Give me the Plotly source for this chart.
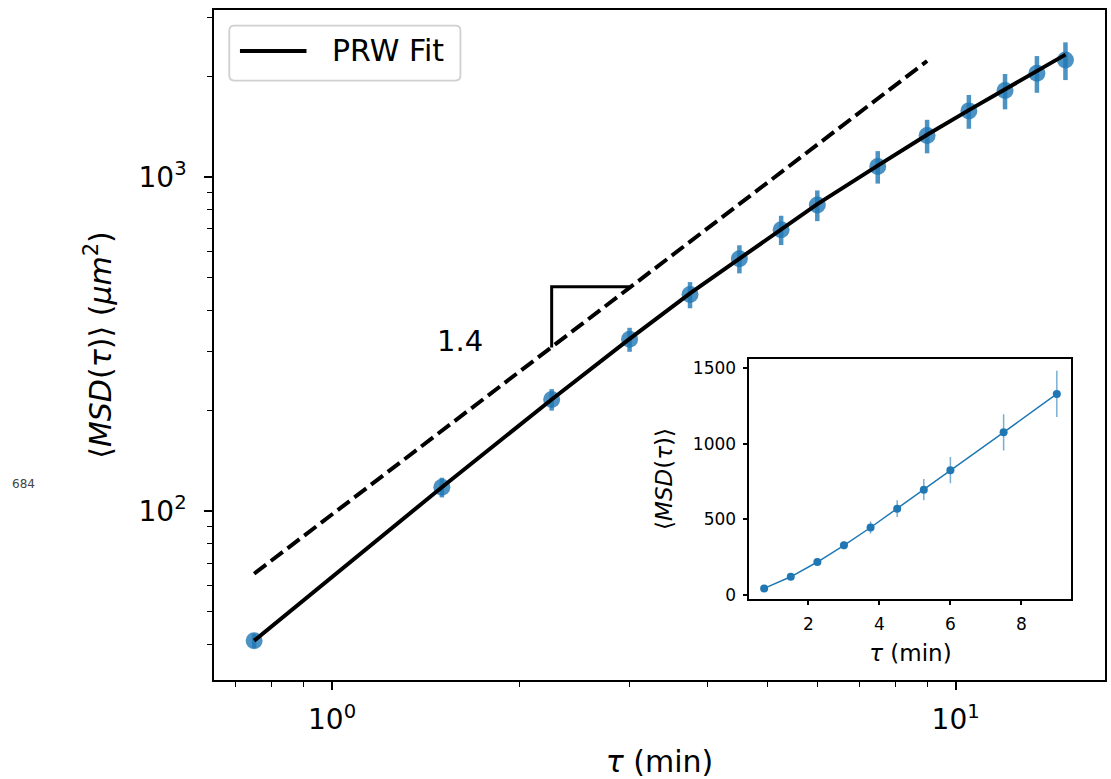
import numpy as np
import plotly.graph_objects as go

# ---------------- data ----------------
tau = [0.75, 1.5, 2.25, 3.0, 3.75, 4.5, 5.25, 6.0, 7.5, 9.0, 10.5, 12.0, 13.5, 15.0]
msd = [41, 118, 216, 327, 445, 570, 696, 825, 1076, 1331, 1578, 1815, 2045, 2241]
msd_err = [2, 8, 16, 27, 40, 55, 70, 87, 120, 153, 183, 220, 257, 290]
fit_msd = [41, 118, 216, 328, 449, 570, 699, 830, 1082, 1338, 1586, 1827, 2071, 2325]
guide_tau = [0.75, 9.0]
guide_msd = [65, 2225]
tri_tau = [2.25, 2.25, 3.0]
tri_msd = [309, 470, 470]
slope_text = "1.4"
slope_pos = (1.604, 324)
inset_count = 10

x_major = [1, 10]
x_major_text = ["10<sup>0</sup>", "10<sup>1</sup>"]
x_minor = [0.7, 0.8, 0.9, 2, 3, 4, 5, 6, 7, 8, 9]
y_major = [100, 1000]
y_major_text = ["10<sup>2</sup>", "10<sup>3</sup>"]
y_minor = [40, 50, 60, 70, 80, 90, 200, 300, 400, 500, 600, 700, 800, 900, 2000, 3000]
inset_xticks = [2, 4, 6, 8]
inset_yticks = [0, 500, 1000, 1500]

# ---------------- layout geometry ----------------
W, H = 1111, 779
L, R, T, B = 214, 4, 10, 98
PW, PH = W - L - R, H - T - B

def px_x(p):
    return (p - L) / PW

def px_y(p):
    return (H - B - p) / PH

BLUE = "#1f77b4"
BLUE_A = "rgba(31,119,180,0.8)"
FONT = "DejaVu Sans"

fig = go.Figure()

# main data with error bars
fig.add_trace(go.Scatter(
    x=tau, y=msd, mode="markers", showlegend=False,
    marker=dict(size=17, color=BLUE_A, line=dict(width=0)),
    error_y=dict(type="data", array=msd_err, visible=True, thickness=4.5,
                 width=0, color=BLUE_A),
    xaxis="x", yaxis="y"))

# guide dashed line
fig.add_trace(go.Scatter(
    x=guide_tau, y=guide_msd, mode="lines", showlegend=False,
    line=dict(color="black", width=4, dash="15px,6px"),
    xaxis="x", yaxis="y"))

# slope triangle
fig.add_trace(go.Scatter(
    x=tri_tau, y=tri_msd, mode="lines", showlegend=False,
    line=dict(color="black", width=3),
    xaxis="x", yaxis="y"))

# PRW fit
fig.add_trace(go.Scatter(
    x=tau, y=fit_msd, mode="lines", name="PRW Fit", showlegend=False,
    line=dict(color="black", width=4),
    xaxis="x", yaxis="y"))

# inset
fig.add_trace(go.Scatter(
    x=tau[:inset_count], y=msd[:inset_count], mode="lines+markers", showlegend=False,
    line=dict(color=BLUE, width=1.5),
    marker=dict(size=8, color=BLUE),
    error_y=dict(type="data", array=msd_err[:inset_count], visible=True,
                 thickness=1.5, width=0, color="rgba(31,119,180,0.6)"),
    xaxis="x2", yaxis="y2"))

axis_common = dict(showline=True, linecolor="black", mirror=True, showgrid=False,
                   zeroline=False, ticks="outside", tickcolor="black")

fig.update_layout(
    width=W, height=H,
    margin=dict(l=L, r=R, t=T, b=B),
    paper_bgcolor="white", plot_bgcolor="white",
    font=dict(family=FONT, color="black"),
    xaxis=dict(
        **axis_common, type="log", range=[-0.1893, 1.2395], domain=[0, 1],
        linewidth=1.6, tickwidth=1.6, ticklen=8,
        tickmode="array", tickvals=x_major, ticktext=x_major_text,
        tickfont=dict(size=28), ticklabelstandoff=6,
        minor=dict(tickmode="array", tickvals=x_minor, ticks="outside",
                   ticklen=5, tickwidth=1.2, tickcolor="black"),
        title=dict(text="<i>τ</i> (min)", font=dict(size=30), standoff=18),
        anchor="y"),
    yaxis=dict(
        **axis_common, type="log", range=[1.495, 3.5], domain=[0, 1],
        linewidth=1.6, tickwidth=1.6, ticklen=8,
        tickmode="array", tickvals=y_major, ticktext=y_major_text,
        tickfont=dict(size=28), ticklabelstandoff=12,
        minor=dict(tickmode="array", tickvals=y_minor, ticks="outside",
                   ticklen=5, tickwidth=1.2, tickcolor="black"),
        title=dict(text="⟨<i>MSD</i>(<i>τ</i>)⟩ (<i>μm</i><sup>2</sup>)",
                   font=dict(size=30), standoff=18),
        anchor="x"),
    xaxis2=dict(
        **axis_common, range=[0.337, 9.41],
        domain=[px_x(750.7), px_x(1073.3)],
        linewidth=2, tickwidth=1.5, ticklen=4,
        tickmode="array", tickvals=inset_xticks,
        tickfont=dict(size=17), ticklabelstandoff=4,
        title=dict(text="<i>τ</i> (min)", font=dict(size=23), standoff=12),
        anchor="y2"),
    yaxis2=dict(
        **axis_common, range=[-30, 1564],
        domain=[px_y(600), px_y(359.3)],
        linewidth=2, tickwidth=1.5, ticklen=4,
        tickmode="array", tickvals=inset_yticks,
        tickfont=dict(size=17), ticklabelstandoff=4,
        title=dict(text="⟨<i>MSD</i>(<i>τ</i>)⟩", font=dict(size=23), standoff=14),
        anchor="x2"),
    showlegend=False,
)

# white backdrop for inset
fig.add_shape(type="rect", xref="paper", yref="paper",
              x0=px_x(750.7), x1=px_x(1073.3), y0=px_y(600), y1=px_y(359.3),
              fillcolor="white", line=dict(width=0), layer="below")

# legend (drawn by hand to match the rounded frame)
x0, x1 = px_x(229.3), px_x(461)
y0, y1 = px_y(80.7), px_y(25.7)
rx, ry = 5 / PW, 5 / PH
path = (f"M{x0+rx},{y0} L{x1-rx},{y0} Q{x1},{y0} {x1},{y0+ry} "
        f"L{x1},{y1-ry} Q{x1},{y1} {x1-rx},{y1} L{x0+rx},{y1} "
        f"Q{x0},{y1} {x0},{y1-ry} L{x0},{y0+ry} Q{x0},{y0} {x0+rx},{y0} Z")
fig.add_shape(type="path", path=path, xref="paper", yref="paper",
              fillcolor="rgba(255,255,255,0.8)", line=dict(color="#d0d0d0", width=1.8))
fig.add_shape(type="line", xref="paper", yref="paper",
              x0=px_x(240), x1=px_x(306.7), y0=px_y(51), y1=px_y(51),
              line=dict(color="black", width=4))
fig.add_annotation(text="PRW Fit", xref="paper", yref="paper",
                   x=px_x(330), y=px_y(51), xanchor="left", yanchor="middle",
                   showarrow=False, font=dict(size=30, color="black"))

# slope label
fig.add_annotation(text=slope_text, xref="x", yref="y",
                   x=np.log10(slope_pos[0]), y=np.log10(slope_pos[1]),
                   xanchor="center", yanchor="middle",
                   showarrow=False, font=dict(size=29, color="black"))

# stray figure label
fig.add_annotation(text="684", xref="paper", yref="paper",
                   x=px_x(23.5), y=px_y(484.5), xanchor="center", yanchor="middle",
                   showarrow=False, font=dict(size=12, color="#444444"))

fig.write_html("out.html")
